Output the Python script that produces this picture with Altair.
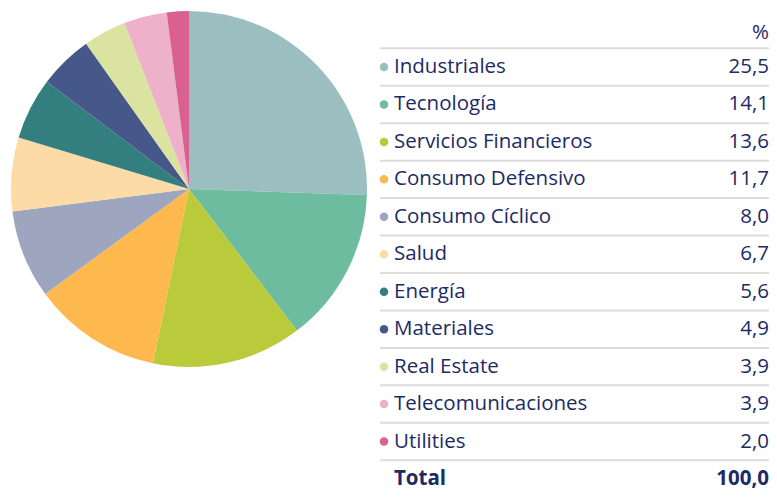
import altair as alt
import pandas as pd

sectors = ["Industriales", "Tecnología", "Servicios Financieros", "Consumo Defensivo",
           "Consumo Cíclico", "Salud", "Energía", "Materiales", "Real Estate",
           "Telecomunicaciones", "Utilities"]
values = [25.5, 14.1, 13.6, 11.7, 8.0, 6.7, 5.6, 4.9, 3.9, 3.9, 2.0]
colors = ["#9bbfc0", "#6dbca0", "#b9cb3b", "#fdb94d", "#9ea5bf", "#fddba6",
          "#337f80", "#465789", "#dae39f", "#eeb1ca", "#da6090"]
total_label = "Total"
total_value = "100,0"
header = "%"

NAVY = "#1d2b64"
FONT = "Open Sans"
FS = 20.5
XR = 761

df = pd.DataFrame({
    "sector": sectors,
    "value": values,
    "label": [f"{v:.1f}".replace(".", ",") for v in values],
    "row": list(range(len(sectors))),
})
total_df = pd.DataFrame({"sector": [total_label], "label": [total_value], "row": [len(sectors)]})
lines_df = pd.DataFrame({"pos": [r - 0.5 for r in range(len(sectors) + 1)]})
header_df = pd.DataFrame({"label": [header], "row": [-0.92]})

yscale = alt.Scale(domain=[0, len(sectors)], range=[59, 471])
cscale = alt.Scale(domain=sectors, range=colors)

pie = alt.Chart(df).mark_arc(radius=178, strokeWidth=0).encode(
    theta=alt.Theta("value:Q", stack=True),
    order=alt.Order("row:Q"),
    color=alt.Color("sector:N", scale=cscale, legend=None),
    x=alt.value(181),
    y=alt.value(181),
)

rules = alt.Chart(lines_df).mark_rule(color="#dcdcdc", strokeWidth=2).encode(
    y=alt.Y("pos:Q", scale=yscale, axis=None),
    x=alt.value(372),
    x2=alt.value(XR),
)

dots = alt.Chart(df).mark_circle(size=72, opacity=1).encode(
    y=alt.Y("row:Q", scale=yscale, axis=None),
    x=alt.value(376),
    color=alt.Color("sector:N", scale=cscale, legend=None),
)

def txt(data, field, align, x, bold=False):
    return alt.Chart(data).mark_text(
        align=align, baseline="middle", font=FONT, fontSize=FS,
        fontWeight="bold" if bold else "normal", color=NAVY
    ).encode(
        y=alt.Y("row:Q", scale=yscale, axis=None),
        x=alt.value(x),
        text=f"{field}:N",
    )

names = txt(df, "sector", "left", 386)
vals = txt(df, "label", "right", XR)
tot_name = txt(total_df, "sector", "left", 386, bold=True)
tot_val = txt(total_df, "label", "right", XR, bold=True)
head = txt(header_df, "label", "right", XR)

chart = alt.layer(pie, rules, dots, names, vals, tot_name, tot_val, head).properties(
    width=761, height=484, padding=0, background="white",
    autosize=alt.AutoSizeParams(type="none")
).configure_view(strokeWidth=0, stroke="transparent")

chart.save("out.html", embed_options={"renderer": "svg", "actions": False})
